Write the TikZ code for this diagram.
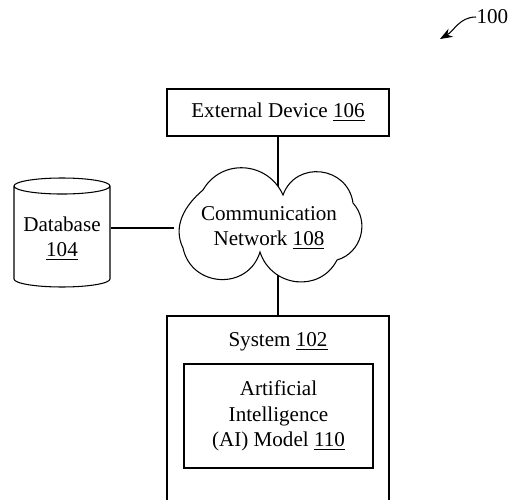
\documentclass[tikz,border=0pt]{standalone}
\usepackage{fontspec}
\setmainfont{Liberation Serif}
\usetikzlibrary{arrows.meta, shapes.geometric}

\begin{document}
\begin{tikzpicture}[font = \fontsize{12pt}{14.4pt}\selectfont, line width = 0.6pt, box/.style = {draw, rectangle, align = center}]
			\clip (0,0) rectangle (10.16,9.98);
			\node (ext) at (5.56,7.73) [box, minimum width = 4.44cm, minimum height = 0.94cm] {External Device \underline{106}};
			\node (sys) at (5.56,1.62) [box, minimum width = 4.44cm, minimum height = 4.08cm] {};
			\node (syslbl) at (5.56,3.15) {System \underline{102}};
			\node (ai) at (5.57,1.66) [box, minimum width = 3.78cm, minimum height = 2.08cm] {Artificial\\Intelligence\\(AI) Model \underline{110}};
			\draw (ext) edge (sys);
			\node (db) at (1.24,5.33) [cylinder, draw, shape border rotate = 90, aspect = 0.18, anchor = shape center, minimum width = 1.92cm, minimum height = 2.18cm, align = center] {Database\\\underline{104}};
			% cloud outline
			\draw [fill = white] (3.66,5.02) to [out = 116, in = 220] (4.06,6.18)
				to [out = 60, in = 114, looseness = 1.18] (5.66,6.08)
				to [out = 70, in = 98, looseness = 1.36] (7.06,5.92)
				to [out = -48, in = 16, looseness = 1.1] (6.74,4.78)
				to [out = -117, in = -72, looseness = 1.23] (5.20,4.94)
				to [out = -107, in = -78, looseness = 1.35] (3.66,5.02) -- cycle;
			\node (net) at (5.38,5.42) [align = center, minimum width = 3.76cm] {Communication\\Network \underline{108}};
			\draw (db.east |- net.west) -- (net.west);
			\node (lbl) at (9.52,9.64) [anchor = west, inner sep = 0pt] {100};
			\coordinate (tip) at (8.80,9.20);
			\draw [-{Stealth[length = 2.5mm]}] (lbl) to [out = 180, in = 30] (tip);
\end{tikzpicture}
\end{document}
